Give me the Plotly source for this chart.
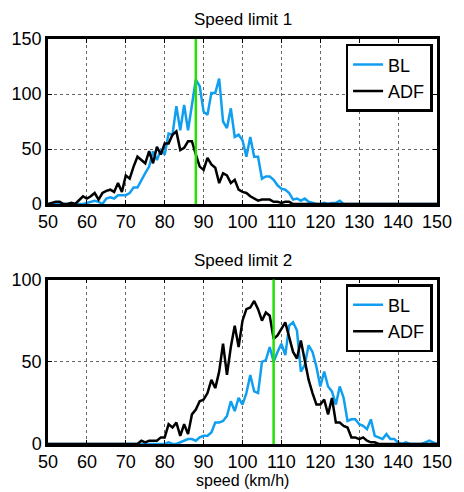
import plotly.graph_objects as go

speed1 = list(range(50, 151))
speed2 = list(range(50, 151))

bl1_vals = {
    60: 1, 61: 2, 62: 3, 63: 2, 64: 0, 65: 5, 66: 6, 67: 5, 68: 8, 69: 8,
    70: 8, 71: 10, 72: 15, 73: 15, 74: 22, 75: 28, 76: 34, 77: 48, 78: 40, 79: 49,
    80: 45, 81: 64, 82: 63, 83: 89, 84: 67, 85: 90, 86: 67, 87: 89, 88: 113, 89: 107,
    90: 84, 91: 81, 92: 101, 93: 101, 94: 114, 95: 75, 96: 69, 97: 87, 98: 61, 99: 63,
    100: 58, 101: 43, 102: 61, 103: 43, 104: 43, 105: 23, 106: 25, 107: 25, 108: 22, 109: 17,
    110: 14, 111: 13, 112: 10, 113: 4, 114: 5, 115: 3, 116: 5, 117: 2, 118: 1, 119: 0,
    121: 1, 123: 1, 124: 1, 125: 3,
}
adf1_vals = {
    51: 1, 52: 2, 53: 2, 56: 1, 58: 4, 59: 7, 60: 5, 61: 7, 62: 10, 63: 4, 64: 10,
    65: 12, 66: 13, 67: 11, 68: 19, 69: 11, 70: 26, 71: 23, 72: 34, 73: 43, 74: 40,
    75: 37, 76: 48, 77: 37, 78: 52, 79: 45, 80: 55, 81: 55, 82: 63, 83: 66, 84: 49,
    85: 51, 86: 57, 87: 57, 88: 45, 89: 34, 90: 31, 91: 42, 92: 36, 93: 33, 94: 19,
    95: 28, 96: 26, 97: 19, 98: 22, 99: 13, 100: 11, 101: 10, 102: 7, 103: 5, 104: 3,
    105: 4, 106: 4, 107: 4, 108: 2, 109: 2, 110: 1, 111: 2, 112: 2,
}
bl2_vals = {
    81: 1, 84: 1, 85: 2, 86: 3, 87: 3, 88: 2, 89: 4, 90: 5, 91: 5, 92: 7, 93: 13, 94: 13,
    95: 14, 96: 17, 97: 26, 98: 20, 99: 28, 100: 24, 101: 31, 102: 42, 103: 32, 104: 31,
    105: 50, 106: 51, 107: 59, 108: 50, 109: 56, 110: 61, 111: 54, 112: 72, 113: 74, 114: 69,
    115: 44, 116: 48, 117: 60, 118: 56, 119: 47, 120: 35, 121: 44, 122: 35, 123: 32, 124: 24,
    125: 35, 126: 28, 127: 14, 128: 15, 129: 15, 130: 12, 131: 11, 132: 9, 133: 15, 134: 5,
    135: 4, 136: 3, 137: 6, 138: 3, 139: 3, 140: 1, 142: 1, 147: 1, 148: 2, 149: 1,
}
adf2_vals = {
    74: 2, 75: 1, 76: 2, 77: 2, 78: 2, 79: 4, 80: 4, 81: 12, 82: 10, 83: 13, 84: 5,
    85: 12, 86: 6, 87: 18, 88: 21, 89: 26, 90: 27, 91: 31, 92: 39, 93: 34, 94: 44,
    95: 61, 96: 42, 97: 59, 98: 72, 99: 59, 100: 75, 101: 82, 102: 83, 103: 87, 104: 82,
    105: 75, 106: 80, 107: 78, 108: 64, 109: 66, 110: 70, 111: 74, 112: 65, 113: 56, 114: 52,
    115: 63, 116: 51, 117: 39, 118: 31, 119: 24, 120: 24, 121: 27, 122: 18, 123: 28, 124: 13,
    125: 13, 126: 11, 127: 10, 128: 4, 129: 4, 130: 3, 131: 4, 132: 2, 133: 1, 134: 1,
}

bl1 = [bl1_vals.get(s, 0) for s in speed1]
adf1 = [adf1_vals.get(s, 0) for s in speed1]
bl2 = [bl2_vals.get(s, 0) for s in speed2]
adf2 = [adf2_vals.get(s, 0) for s in speed2]

limit1 = 88
limit2 = 108
xticks = list(range(50, 151, 10))
yticks1 = [0, 50, 100, 150]
yticks2 = [0, 50, 100]

BLUE = "#109ff0"
GREEN = "#22e000"
FONT = "Liberation Sans, Arial, sans-serif"

fig = go.Figure()
fig.add_trace(go.Scatter(x=speed1, y=bl1, mode="lines", name="BL",
                         line=dict(color=BLUE, width=2.5), xaxis="x", yaxis="y", legend="legend"))
fig.add_trace(go.Scatter(x=speed1, y=adf1, mode="lines", name="ADF",
                         line=dict(color="black", width=2.5), xaxis="x", yaxis="y", legend="legend"))
fig.add_trace(go.Scatter(x=speed2, y=bl2, mode="lines", name="BL",
                         line=dict(color=BLUE, width=2.5), xaxis="x2", yaxis="y2", legend="legend2"))
fig.add_trace(go.Scatter(x=speed2, y=adf2, mode="lines", name="ADF",
                         line=dict(color="black", width=2.5), xaxis="x2", yaxis="y2", legend="legend2"))

fig.add_shape(type="line", xref="x", yref="y domain", x0=limit1, x1=limit1, y0=0, y1=1,
              line=dict(color=GREEN, width=2.5))
fig.add_shape(type="line", xref="x2", yref="y2 domain", x0=limit2, x1=limit2, y0=0, y1=1,
              line=dict(color=GREEN, width=2.5))

axis_common = dict(
    showline=True, linecolor="black", linewidth=2.5, mirror="ticks",
    ticks="inside", ticklen=4, tickcolor="black", tickwidth=1,
    showgrid=True, gridcolor="#666666", griddash="dot", gridwidth=1,
    zeroline=False, tickfont=dict(family=FONT, size=18, color="black"),
    ticklabeloverflow="allow",
)

legend_common = dict(
    bgcolor="white", bordercolor="black", borderwidth=2.5,
    font=dict(family=FONT, size=18, color="black"),
    xanchor="left", yanchor="top", tracegroupgap=0,
)

fig.update_layout(
    width=464, height=492,
    margin=dict(l=48, r=15, t=39, b=48),
    paper_bgcolor="white", plot_bgcolor="white",
    xaxis=dict(**axis_common, range=[50, 150], tickvals=xticks, anchor="y", domain=[0, 1]),
    yaxis=dict(**axis_common, range=[0, 150], tickvals=yticks1, anchor="x", domain=[0.5926, 1]),
    xaxis2=dict(**axis_common, range=[50, 150], tickvals=xticks, anchor="y2", domain=[0, 1]),
    yaxis2=dict(**axis_common, range=[0, 100], tickvals=yticks2, anchor="x2", domain=[0, 0.406]),
    legend=dict(**legend_common, x=0.765, y=0.988),
    legend2=dict(**legend_common, x=0.765, y=0.395),
    showlegend=True,
    annotations=[
        dict(text="Speed limit 1", xref="paper", yref="paper", x=0.5, y=1.0, yshift=8,
             showarrow=False, xanchor="center", yanchor="bottom",
             font=dict(family=FONT, size=17, color="black")),
        dict(text="Speed limit 2", xref="paper", yref="paper", x=0.5, y=0.406, yshift=8,
             showarrow=False, xanchor="center", yanchor="bottom",
             font=dict(family=FONT, size=17, color="black")),
        dict(text="speed (km/h)", xref="paper", yref="paper", x=0.5, y=0, yshift=-26,
             showarrow=False, xanchor="center", yanchor="top",
             font=dict(family=FONT, size=16, color="black")),
    ],
)

fig.write_html("out.html")
